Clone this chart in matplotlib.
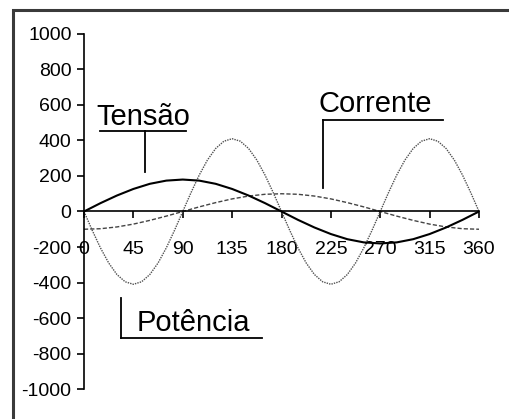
import matplotlib.pyplot as plt
from matplotlib.patches import Rectangle

# angle (degrees) and readings from the chart
angulo = [0, 15, 30, 45, 60, 75, 90, 105, 120, 135, 150, 165, 180,
          195, 210, 225, 240, 255, 270, 285, 300, 315, 330, 345, 360]
tensao = [0, 47, 90, 127, 156, 174, 180, 174, 156, 127, 90, 47, 0,
          -47, -90, -127, -156, -174, -180, -174, -156, -127, -90, -47, 0]
corrente = [-100, -97, -87, -71, -50, -26, 0, 26, 50, 71, 87, 97, 100,
            97, 87, 71, 50, 26, 0, -26, -50, -71, -87, -97, -100]

# power curve is read more finely (every 7.5 degrees)
angulo_p = [0, 7.5, 15, 22.5, 30, 37.5, 45, 52.5, 60, 67.5, 75, 82.5, 90,
            97.5, 105, 112.5, 120, 127.5, 135, 142.5, 150, 157.5, 165, 172.5, 180,
            187.5, 195, 202.5, 210, 217.5, 225, 232.5, 240, 247.5, 255, 262.5, 270,
            277.5, 285, 292.5, 300, 307.5, 315, 322.5, 330, 337.5, 345, 352.5, 360]
potencia = [0, -106, -205, -290, -355, -396, -410, -396, -355, -290, -205, -106, 0,
            106, 205, 290, 355, 396, 410, 396, 355, 290, 205, 106, 0,
            -106, -205, -290, -355, -396, -410, -396, -355, -290, -205, -106, 0,
            106, 205, 290, 355, 396, 410, 396, 355, 290, 205, 106, 0]

x_ticks = [0, 45, 90, 135, 180, 225, 270, 315, 360]
y_ticks = [-1000, -800, -600, -400, -200, 0, 200, 400, 600, 800, 1000]

plt.rcParams['font.family'] = ['Liberation Sans', 'DejaVu Sans']
plt.rcParams['axes.unicode_minus'] = False

fig = plt.figure(figsize=(5.09, 4.19), dpi=100)

# outer chart frame (clipped at right and bottom like the original)
fig.patches.append(Rectangle((13 / 509, -0.05), 1.1, 1 - 10 / 419 + 0.05,
                             transform=fig.transFigure, fill=False,
                             edgecolor='#3a3a3a', linewidth=2.2, clip_on=False))

ax = fig.add_axes([84 / 509, 30 / 419, 395 / 509, 355 / 419])

# curves
ax.plot(angulo_p, potencia, color='#505050', linewidth=1, linestyle=(0, (1, 0.8)))
ax.plot(angulo, corrente, color='#444444', linewidth=1, linestyle=(0, (3, 1.5)))
ax.plot(angulo, tensao, color='black', linewidth=1.5)

ax.set_xlim(0, 360)
ax.set_ylim(-1000, 1000)
ax.set_xticks(x_ticks)
ax.set_yticks(y_ticks)

ax.spines['top'].set_visible(False)
ax.spines['right'].set_visible(False)
ax.spines['bottom'].set_position(('data', 0))
ax.spines['left'].set_linewidth(1.2)
ax.spines['bottom'].set_linewidth(1.2)
ax.tick_params(axis='y', direction='out', length=5, width=1.2, pad=4, labelsize=14)
ax.tick_params(axis='x', direction='out', length=5, width=1.2, pad=16, labelsize=14)

# callouts
ax.text(11.5, 485, 'Tensão', fontsize=21, ha='left', va='baseline')
ax.plot([14.6, 93], [451, 451], color='black', linewidth=1.3, clip_on=False)
ax.plot([55.6, 55.6], [451, 225], color='black', linewidth=1.3, clip_on=False)

ax.text(214, 563, 'Corrente', fontsize=21, ha='left', va='baseline')
ax.plot([218, 327], [518, 518], color='black', linewidth=1.3, clip_on=False)
ax.plot([218, 218], [518, 135], color='black', linewidth=1.3, clip_on=False)

ax.text(48, -676, 'Potência', fontsize=21, ha='left', va='baseline')
ax.plot([33.7, 33.7], [-485, -715], color='black', linewidth=1.3, clip_on=False)
ax.plot([33.7, 162], [-715, -715], color='black', linewidth=1.3, clip_on=False)

fig.savefig('out.png', dpi=100)
